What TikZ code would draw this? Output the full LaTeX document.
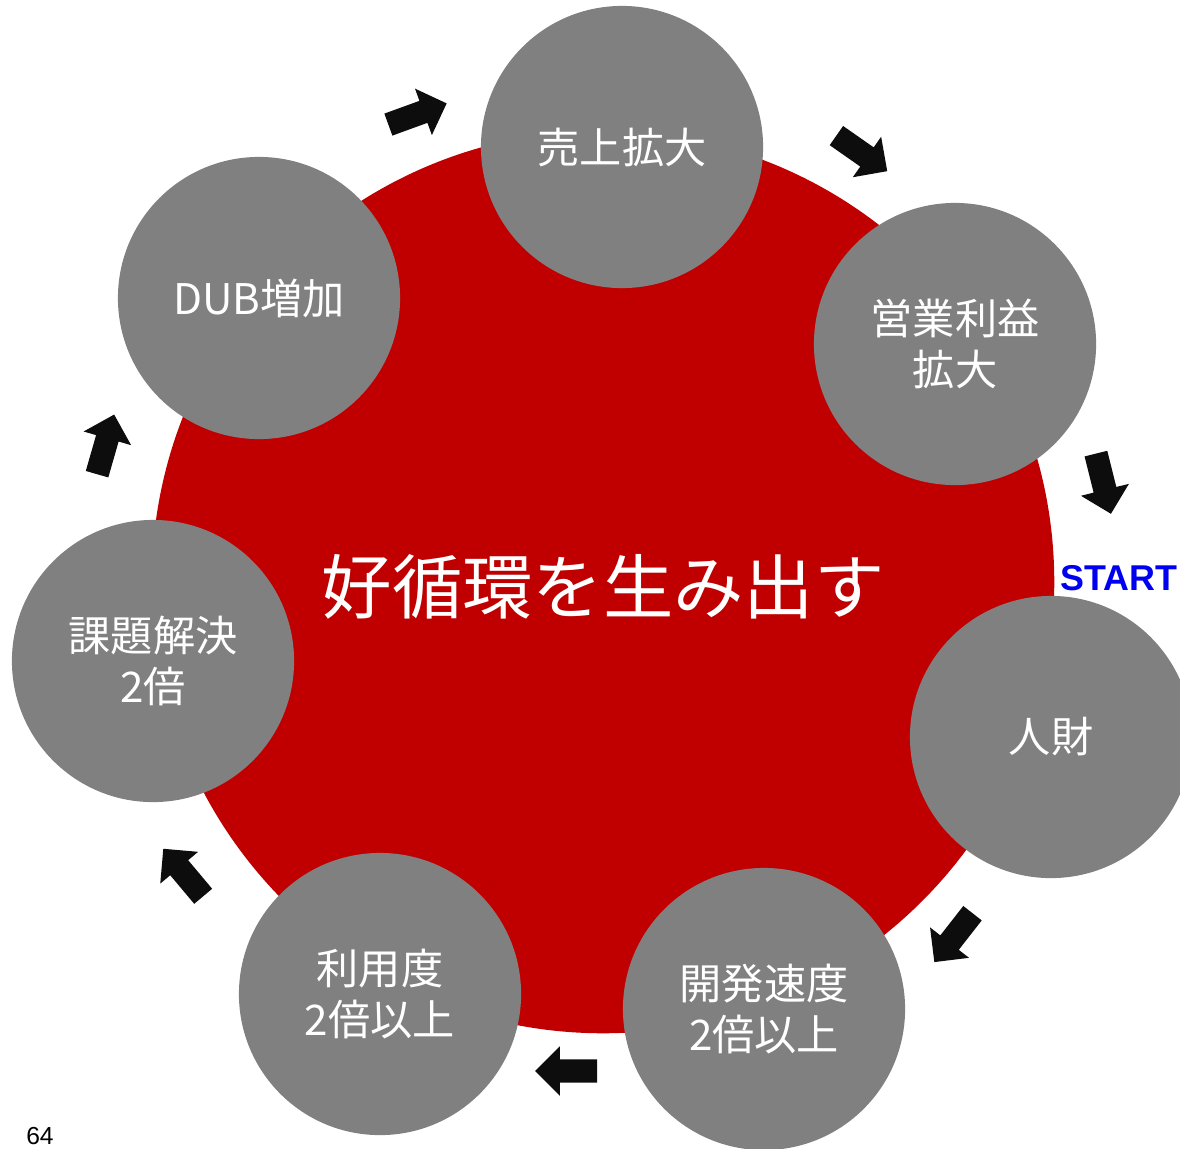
\documentclass[tikz,border=0pt]{standalone}
\usepackage{fontspec}
\setmainfont{Noto Sans CJK JP}
\newfontfamily\latinsans{Liberation Sans}
\usetikzlibrary{shapes.arrows}
\definecolor{cRed}{HTML}{C00000}
\definecolor{cGray}{HTML}{808080}
\definecolor{cBlue}{HTML}{0000F0}

\begin{document}
\begin{tikzpicture}[x=0.01cm, y=-0.01cm,
    stage/.style={circle, fill=cGray, minimum size=2.82cm, inner sep=0pt,
      text=white, align=center, font=\fontsize{12}{14.5}\selectfont},
    flow/.style={single arrow, fill=black!95, inner xsep=0pt, inner ysep=0.11cm,
      minimum height=0.62cm, single arrow head extend=0.13cm}]
    \useasboundingbox (0,0) rectangle (1180,1148);
    % Main circle
    \node[circle, fill=cRed, minimum size=9.02cm, inner sep=0pt] (core) at (603,582) {};
    \node[text=white, font=\fontsize{20}{24}\selectfont] (title) at (603,587) {好循環を生み出す};
    % Stages of the cycle
    \node[stage] (sales)    at (622,147)  {売上拡大};
    \node[stage] (profit)   at (955,344)  {営業利益\\拡大};
    \node[stage] (talent)   at (1051,737) {人財};
    \node[stage] (devspeed) at (764,1009) {開発速度\\2倍以上};
    \node[stage] (usage)    at (380,994)  {利用度\\2倍以上};
    \node[stage] (solve)    at (153,661)  {課題解決\\2倍};
    \node[stage] (dub)      at (259,298)  {DUB増加};
    % Arrows between stages
    \node[flow, rotate=20]   (a1) at (412,116)  {};
    \node[flow, rotate=-35]  (a2) at (857,150)  {};
    \node[flow, rotate=-76]  (a3) at (1102,478) {};
    \node[flow, rotate=-128] (a4) at (957,933)  {};
    \node[flow, rotate=180]  (a5) at (572,1071) {};
    \node[flow, rotate=130]  (a6) at (187,877)  {};
    \node[flow, rotate=74]   (a7) at (104,450)  {};
    % Labels
    \node[text=cBlue, font=\latinsans\bfseries\fontsize{10.2}{12}\selectfont, anchor=west, inner sep=0pt] (start) at (1060,578) {START};
    \node[font=\latinsans\fontsize{7}{8}\selectfont, inner sep=0pt] (page) at (40,1136) {64};
\end{tikzpicture}
\end{document}
